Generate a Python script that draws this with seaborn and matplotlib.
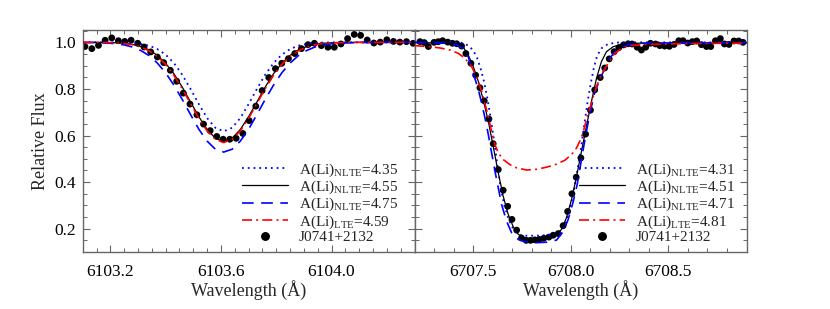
import matplotlib
matplotlib.use("Agg")
import matplotlib.pyplot as plt
import seaborn as sns
from matplotlib.ticker import MultipleLocator, FixedLocator

# ---------------- data: Li I 6103 panel ----------------
obs_lam_6103 = [6103.108, 6103.133, 6103.157, 6103.181, 6103.205, 6103.229, 6103.252, 6103.275,
                6103.299, 6103.322, 6103.346, 6103.370, 6103.393, 6103.417, 6103.440, 6103.464,
                6103.488, 6103.513, 6103.537, 6103.561, 6103.585, 6103.608, 6103.632, 6103.655,
                6103.679, 6103.702, 6103.726, 6103.749, 6103.773, 6103.797, 6103.820, 6103.844,
                6103.867, 6103.891, 6103.915, 6103.938, 6103.963, 6103.987, 6104.010, 6104.034,
                6104.058, 6104.082, 6104.105, 6104.129, 6104.153, 6104.176, 6104.200, 6104.224,
                6104.247, 6104.271, 6104.295]
obs_flux_6103 = [0.982, 0.973, 0.987, 1.009, 1.019, 1.007, 1.004, 1.009,
                 0.996, 0.980, 0.959, 0.937, 0.913, 0.880, 0.833, 0.782,
                 0.735, 0.689, 0.649, 0.621, 0.596, 0.584, 0.584, 0.588,
                 0.609, 0.664, 0.726, 0.793, 0.849, 0.887, 0.910, 0.930,
                 0.952, 0.973, 0.990, 0.996, 0.986, 0.979, 0.979, 0.993,
                 1.016, 1.034, 1.030, 1.010, 0.997, 1.001, 1.011, 1.004,
                 1.001, 1.003, 0.996]

mod_lam_6103 = [6103.10, 6103.15, 6103.19, 6103.22, 6103.25, 6103.28, 6103.31, 6103.34,
                6103.37, 6103.40, 6103.43, 6103.46, 6103.49, 6103.52, 6103.55, 6103.58,
                6103.61, 6103.64, 6103.67, 6103.70, 6103.73, 6103.76, 6103.79, 6103.82,
                6103.85, 6103.88, 6103.91, 6103.94, 6103.97, 6104.00, 6104.03, 6104.10,
                6104.20, 6104.30]
nlte_435 = [1.000, 1.000, 1.000, 1.000, 0.999, 0.997, 0.993, 0.986,
            0.971, 0.947, 0.911, 0.861, 0.800, 0.735, 0.675, 0.633,
            0.618, 0.633, 0.675, 0.735, 0.800, 0.861, 0.911, 0.947,
            0.971, 0.986, 0.993, 0.997, 0.999, 1.000, 1.000, 1.000,
            1.000, 1.000]
nlte_455 = [1.000, 1.000, 0.999, 0.998, 0.996, 0.991, 0.982, 0.968,
            0.944, 0.910, 0.865, 0.808, 0.744, 0.681, 0.626, 0.588,
            0.575, 0.588, 0.626, 0.681, 0.744, 0.808, 0.865, 0.910,
            0.944, 0.968, 0.982, 0.991, 0.996, 0.998, 0.999, 1.000,
            1.000, 1.000]
nlte_475 = [0.999, 0.999, 0.997, 0.994, 0.989, 0.980, 0.965, 0.943,
            0.911, 0.869, 0.816, 0.755, 0.690, 0.627, 0.576, 0.541,
            0.529, 0.541, 0.576, 0.627, 0.690, 0.755, 0.816, 0.869,
            0.911, 0.943, 0.965, 0.980, 0.989, 0.994, 0.997, 0.999,
            1.000, 1.000]
lte_459 = [1.000, 1.000, 0.999, 0.998, 0.995, 0.990, 0.980, 0.964,
           0.940, 0.905, 0.858, 0.801, 0.737, 0.674, 0.620, 0.583,
           0.570, 0.583, 0.620, 0.674, 0.737, 0.801, 0.858, 0.905,
           0.940, 0.964, 0.980, 0.990, 0.995, 0.998, 0.999, 1.000,
           1.000, 1.000]

# ---------------- data: Li I 6708 panel ----------------
obs_lam_6708 = [6707.228, 6707.250, 6707.271, 6707.300, 6707.322, 6707.344, 6707.370, 6707.394,
                6707.416, 6707.441, 6707.463, 6707.489, 6707.513, 6707.535, 6707.557, 6707.581,
                6707.603, 6707.629, 6707.654, 6707.677, 6707.699, 6707.723, 6707.748, 6707.772,
                6707.794, 6707.816, 6707.839, 6707.862, 6707.888, 6707.910, 6707.936, 6707.961,
                6707.984, 6708.006, 6708.028, 6708.052, 6708.076, 6708.101, 6708.123, 6708.151,
                6708.174, 6708.197, 6708.222, 6708.246, 6708.270, 6708.294, 6708.314, 6708.340,
                6708.362, 6708.384, 6708.408, 6708.434, 6708.456, 6708.481, 6708.505, 6708.529,
                6708.553, 6708.575, 6708.599, 6708.623, 6708.645, 6708.669, 6708.695, 6708.717,
                6708.741, 6708.766, 6708.787, 6708.810, 6708.836, 6708.860, 6708.882]
obs_flux_6708 = [1.003, 0.999, 0.982, 1.000, 1.003, 1.007, 1.001, 0.996,
                 0.994, 0.984, 0.952, 0.910, 0.859, 0.805, 0.749, 0.671,
                 0.565, 0.454, 0.365, 0.296, 0.240, 0.194, 0.160, 0.150,
                 0.150, 0.152, 0.154, 0.159, 0.164, 0.172, 0.179, 0.213,
                 0.274, 0.350, 0.421, 0.504, 0.606, 0.709, 0.796, 0.849,
                 0.890, 0.929, 0.960, 0.977, 0.989, 0.994, 0.993, 0.979,
                 0.967, 0.979, 0.996, 0.993, 0.986, 0.984, 0.983, 0.991,
                 1.007, 1.007, 0.997, 1.003, 1.006, 0.990, 0.982, 0.982,
                 1.007, 1.016, 0.993, 0.991, 1.006, 1.006, 1.000]

lam_431 = [6707.20, 6707.433, 6707.458, 6707.484, 6707.504, 6707.521, 6707.538, 6707.556,
           6707.573, 6707.590, 6707.607, 6707.624, 6707.641, 6707.661, 6707.685, 6707.709,
           6707.736, 6707.765, 6707.825, 6707.893, 6707.936, 6707.961, 6707.978, 6707.995,
           6708.012, 6708.030, 6708.050, 6708.067, 6708.084, 6708.101, 6708.118, 6708.135,
           6708.157, 6708.191, 6708.234, 6708.371, 6708.90]
nlte_431 = [1.000, 1.000, 0.994, 0.981, 0.960, 0.932, 0.889, 0.832,
            0.760, 0.675, 0.582, 0.475, 0.375, 0.297, 0.233, 0.193,
            0.174, 0.170, 0.170, 0.173, 0.176, 0.197, 0.233, 0.283,
            0.347, 0.432, 0.532, 0.632, 0.732, 0.817, 0.889, 0.942,
            0.974, 0.993, 0.999, 1.000, 1.000]

lam_451 = [6707.20, 6707.347, 6707.416, 6707.450, 6707.475, 6707.501, 6707.527, 6707.552,
           6707.578, 6707.603, 6707.629, 6707.654, 6707.680, 6707.706, 6707.731, 6707.757,
           6707.791, 6707.825, 6707.859, 6707.893, 6707.927, 6707.953, 6707.978, 6708.004,
           6708.030, 6708.055, 6708.081, 6708.106, 6708.132, 6708.157, 6708.183, 6708.217,
           6708.268, 6708.371, 6708.90]
nlte_451 = [0.999, 0.997, 0.993, 0.979, 0.946, 0.896, 0.832, 0.753,
            0.661, 0.554, 0.440, 0.340, 0.261, 0.207, 0.176, 0.163,
            0.157, 0.157, 0.160, 0.166, 0.177, 0.197, 0.247, 0.325,
            0.425, 0.532, 0.642, 0.746, 0.846, 0.917, 0.960, 0.981,
            0.994, 0.997, 0.997]

lam_471 = [6707.20, 6707.347, 6707.416, 6707.450, 6707.475, 6707.492, 6707.509, 6707.527,
           6707.544, 6707.561, 6707.578, 6707.595, 6707.612, 6707.629, 6707.646, 6707.671,
           6707.697, 6707.731, 6707.765, 6707.825, 6707.876, 6707.927, 6707.961, 6707.987,
           6708.012, 6708.033, 6708.055, 6708.077, 6708.101, 6708.123, 6708.149, 6708.174,
           6708.200, 6708.234, 6708.268, 6708.302, 6708.371, 6708.90]
nlte_471 = [1.000, 0.997, 0.989, 0.974, 0.939, 0.889, 0.846, 0.796,
            0.739, 0.675, 0.604, 0.525, 0.447, 0.375, 0.304, 0.233,
            0.183, 0.154, 0.144, 0.140, 0.142, 0.151, 0.187, 0.240,
            0.314, 0.390, 0.497, 0.604, 0.706, 0.785, 0.839, 0.889,
            0.932, 0.967, 0.981, 0.991, 0.996, 0.999]

lam_481 = [6707.20, 6707.279, 6707.330, 6707.382, 6707.424, 6707.458, 6707.492, 6707.518,
           6707.544, 6707.569, 6707.595, 6707.612, 6707.629, 6707.654, 6707.689, 6707.723,
           6707.774, 6707.825, 6707.876, 6707.927, 6707.970, 6708.004, 6708.030, 6708.050,
           6708.067, 6708.084, 6708.101, 6708.118, 6708.135, 6708.157, 6708.191, 6708.226,
           6708.260, 6708.302, 6708.371, 6708.541, 6708.90]
lte_481 = [0.986, 0.981, 0.976, 0.967, 0.953, 0.932, 0.896, 0.853,
           0.789, 0.711, 0.618, 0.561, 0.525, 0.497, 0.475, 0.461,
           0.452, 0.455, 0.464, 0.477, 0.494, 0.518, 0.547, 0.582,
           0.625, 0.679, 0.725, 0.775, 0.817, 0.860, 0.910, 0.953,
           0.974, 0.986, 0.990, 0.994, 0.997]

labels_6103 = [r"A(Li)$_{\rm NLTE}$=4.35", r"A(Li)$_{\rm NLTE}$=4.55",
               r"A(Li)$_{\rm NLTE}$=4.75", r"A(Li)$_{\rm LTE}$=4.59", "J0741+2132"]
labels_6708 = [r"A(Li)$_{\rm NLTE}$=4.31", r"A(Li)$_{\rm NLTE}$=4.51",
               r"A(Li)$_{\rm NLTE}$=4.71", r"A(Li)$_{\rm LTE}$=4.81", "J0741+2132"]

# ---------------- style ----------------
sns.set_style("ticks")
plt.rcParams["font.family"] = ["Liberation Serif", "DejaVu Serif"]
plt.rcParams["mathtext.fontset"] = "custom"
plt.rcParams["mathtext.rm"] = "Liberation Serif"
plt.rcParams["mathtext.it"] = "Liberation Serif:italic"
FRAME = "#666666"

W, H = 830, 309
fig = plt.figure(figsize=(W / 100, H / 100), dpi=100)
ax1 = fig.add_axes([82.7 / W, 1 - 252 / H, 331.8 / W, 222 / H])
ax2 = fig.add_axes([414.5 / W, 1 - 252 / H, 332.0 / W, 222 / H])

styles = [dict(color="#0000ff", lw=1.3, dashes=(1, 2.2)),
          dict(color="black", lw=0.9, dashes=()),
          dict(color="#0000ff", lw=1.2, dashes=(7, 4.5)),
          dict(color="#ff0000", lw=1.2, dashes=(6, 2.5, 1.2, 2.5))]


def panel(ax, obs_x, obs_y, models, labels, xlim, major, minor, fmt, anchor_x):
    sns.scatterplot(x=obs_x, y=obs_y, ax=ax, color="black", s=24,
                    edgecolor="none", linewidth=0, zorder=2, legend=False)
    handles = []
    for (mx, my), st in zip(models, styles):
        sns.lineplot(x=mx, y=my, ax=ax, sort=False, estimator=None,
                     color=st["color"], lw=st["lw"], zorder=3, legend=False)
        line = ax.lines[-1]
        if st["dashes"]:
            line.set_dashes(st["dashes"])
        handles.append(line)
    dot = plt.Line2D([], [], ls="none", marker="o", color="black", ms=5.4)
    handles.append(dot)
    ax.set_xlim(*xlim)
    ax.set_ylim(0.1, 1.053)
    ax.xaxis.set_major_locator(FixedLocator(major))
    ax.xaxis.set_minor_locator(MultipleLocator(minor))
    ax.xaxis.set_major_formatter(plt.FuncFormatter(lambda v, p: fmt % v))
    ax.yaxis.set_major_locator(MultipleLocator(0.2))
    ax.yaxis.set_minor_locator(MultipleLocator(0.05))
    ax.tick_params(which="both", direction="in", top=True, right=True,
                   color=FRAME, labelsize=12.5, labelcolor="black")
    ax.tick_params(which="major", length=5, width=0.8)
    ax.tick_params(which="minor", length=3, width=0.7)
    ax.tick_params(axis="x", pad=9)
    ax.tick_params(axis="y", pad=5)
    for sp in ax.spines.values():
        sp.set_color(FRAME)
        sp.set_linewidth(1.0)
    ax.set_xlabel("Wavelength (Å)", fontsize=13, labelpad=0)
    leg = ax.legend(handles, labels, loc="lower right", bbox_to_anchor=(anchor_x, 0.035),
                    frameon=False, fontsize=11.0, handlelength=3.0, handletextpad=0.7,
                    labelspacing=0.0, borderpad=0, borderaxespad=0)
    return leg


panel(ax1, obs_lam_6103, obs_flux_6103,
      [(mod_lam_6103, nlte_435), (mod_lam_6103, nlte_455),
       (mod_lam_6103, nlte_475), (mod_lam_6103, lte_459)],
      labels_6103, (6103.1, 6104.3), [6103.2, 6103.6, 6104.0], 0.05, "%.1f", 0.95)
panel(ax2, obs_lam_6708, obs_flux_6708,
      [(lam_431, nlte_431), (lam_451, nlte_451),
       (lam_471, nlte_471), (lam_481, lte_481)],
      labels_6708, (6707.2, 6708.9), [6707.5, 6708.0, 6708.5], 0.1, "%.1f", 0.965)

ax1.set_ylabel("Relative Flux", fontsize=13, labelpad=4)
ax2.tick_params(axis="y", labelleft=False)
ax2.set_ylabel("")

fig.savefig("out.png", dpi=100, facecolor="white")
